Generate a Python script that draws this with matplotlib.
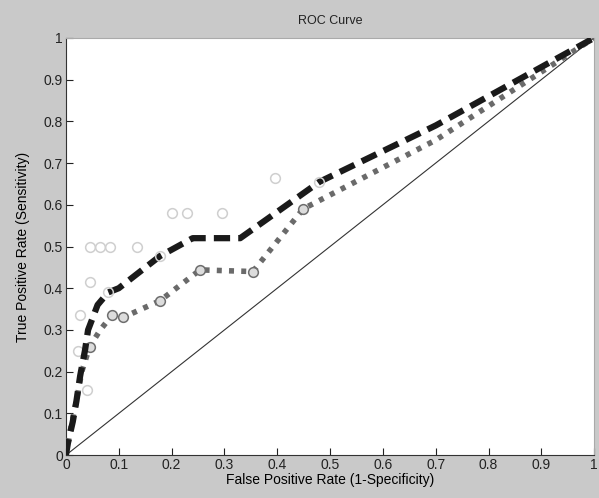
import matplotlib

matplotlib.use("Agg")
import matplotlib.pyplot as plt
import numpy as np

plt.rcParams["font.family"] = ["Liberation Sans", "DejaVu Sans"]

# model 1 (dashed black)
fpr_a = [0.0, 0.004, 0.013, 0.02, 0.027, 0.036, 0.042, 0.06, 0.08, 0.10, 0.178, 0.24, 0.33, 0.48, 0.70, 1.0]
tpr_a = [0.0, 0.03, 0.08, 0.13, 0.19, 0.25, 0.30, 0.36, 0.39, 0.40, 0.477, 0.52, 0.52, 0.655, 0.79, 1.0]
mark_a_x = [0.08, 0.178, 0.48]
mark_a_y = [0.39, 0.477, 0.655]

# model 2 (dotted grey)
fpr_b = [0.0, 0.01, 0.02, 0.03, 0.045, 0.065, 0.087, 0.108, 0.178, 0.254, 0.354, 0.449, 0.70, 1.0]
tpr_b = [0.0, 0.07, 0.13, 0.20, 0.26, 0.30, 0.335, 0.33, 0.37, 0.444, 0.44, 0.59, 0.755, 1.0]
mark_b_x = [0.045, 0.087, 0.108, 0.178, 0.254, 0.354, 0.449]
mark_b_y = [0.26, 0.335, 0.33, 0.37, 0.444, 0.44, 0.59]

# empirical points (pale circles)
emp_x = [0.045, 0.065, 0.083, 0.134, 0.20, 0.23, 0.295, 0.396, 0.045, 0.027, 0.023, 0.04]
emp_y = [0.50, 0.50, 0.50, 0.50, 0.58, 0.58, 0.58, 0.664, 0.415, 0.336, 0.25, 0.155]

ticks = np.round(np.arange(0, 1.01, 0.1), 1)
tick_labels = ["0", "0.1", "0.2", "0.3", "0.4", "0.5", "0.6", "0.7", "0.8", "0.9", "1"]

fig = plt.figure(figsize=(5.99, 4.98), dpi=100, facecolor="#c9c9c9")
ax = fig.add_axes([0.110, 0.086, 0.882, 0.838])
ax.set_facecolor("white")

ax.plot([0, 1], [0, 1], color="#333333", lw=0.8)
ax.plot(emp_x, emp_y, "o", ms=7, mfc="none", mec="#cfcfcf", mew=1.1, zorder=2)
ax.plot(fpr_b, tpr_b, color="#6a6a6a", lw=4, ls=(0, (0.9, 1.3)), zorder=3)
ax.plot(mark_b_x, mark_b_y, "o", ms=7, mfc="#dcdcdc", mec="#6e6e6e", mew=1.1, zorder=4)
ax.plot(fpr_a, tpr_a, color="#1a1a1a", lw=4.5, ls=(0, (2.6, 1.3)), zorder=5)
ax.plot(mark_a_x, mark_a_y, "o", ms=7, mfc="none", mec="#d0d0d0", mew=1.1, zorder=6)

ax.set_xlim(0, 1)
ax.set_ylim(0, 1)
ax.set_xticks(ticks)
ax.set_xticklabels(tick_labels)
ax.set_yticks(ticks)
ax.set_yticklabels(tick_labels)
ax.tick_params(direction="in", length=5, width=0.8, labelsize=10, colors="#222222", pad=2)
for side in ["top", "right"]:
    ax.spines[side].set_color("#aaaaaa")
for side in ["left", "bottom"]:
    ax.spines[side].set_color("#333333")

ax.set_title("ROC Curve", fontsize=9, color="#222222", pad=10)
ax.set_xlabel("False Positive Rate (1-Specificity)", fontsize=10, labelpad=1)
ax.set_ylabel("True Positive Rate (Sensitivity)", fontsize=10, labelpad=10)

fig.savefig("out.png", dpi=100, facecolor=fig.get_facecolor())
